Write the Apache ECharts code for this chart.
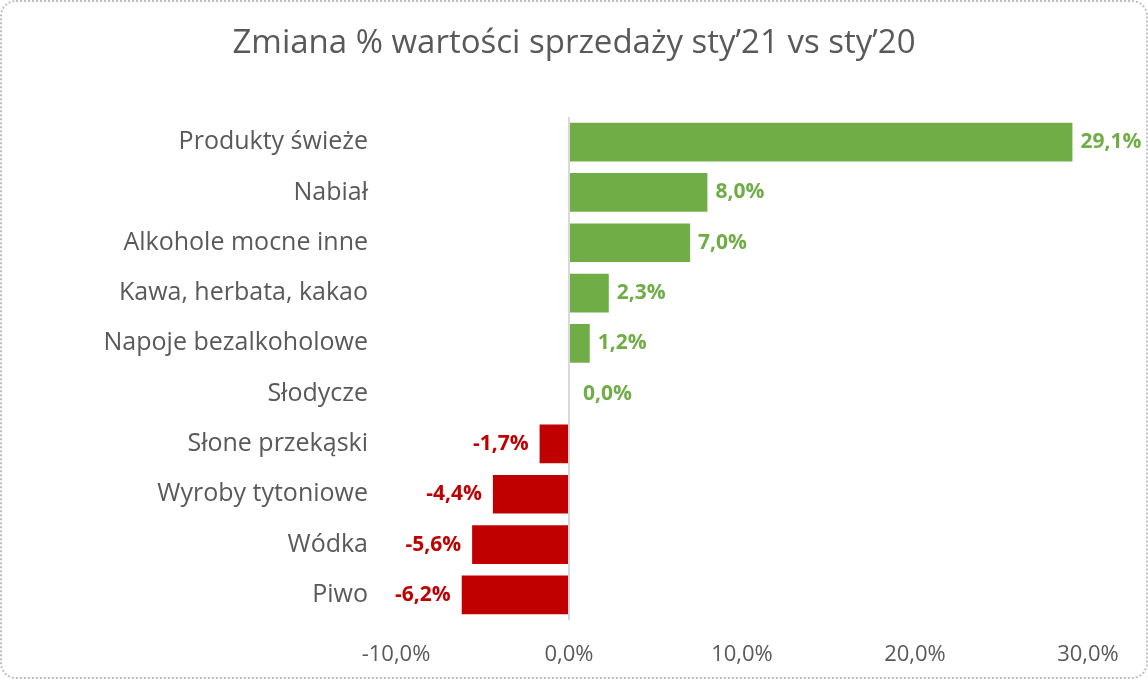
<!DOCTYPE html>
<html>
<head>
<meta charset="utf-8">
<script src="https://cdn.jsdelivr.net/npm/echarts@6/dist/echarts.min.js"></script>
<style>
    html, body { margin: 0; padding: 0; background: #fff; }
    #chart {
        width: 1148px; height: 679px; box-sizing: border-box;
        border: 2px dotted #bfbfbf; border-radius: 16px;
    }
</style>
</head>
<body>
<div id="chart"></div>
<script>
// Category names, top to bottom
var categories = ['Produkty świeże', 'Nabiał', 'Alkohole mocne inne', 'Kawa, herbata, kakao',
    'Napoje bezalkoholowe', 'Słodycze', 'Słone przekąski', 'Wyroby tytoniowe', 'Wódka', 'Piwo']
// Change of sales value, %
var changes = [29.1, 8.0, 7.0, 2.3, 1.2, 0.0, -1.7, -4.4, -5.6, -6.2]
var tickMin = -10
var tickMax = 30
var tickStep = 10

var green = '#70ad47'
var red = '#c00000'

function pct(v) {
    return v.toFixed(1).replace('.', ',') + '%'
}

var barData = changes.map(function (v) {
    var c = v >= 0 ? green : red
    return {
        value: v,
        itemStyle: { color: c },
        label: {
            color: c,
            position: v >= 0 ? 'right' : 'left',
            distance: v >= 0 ? (v === 0 ? 14 : 8) : 11
        }
    }
})

var option = {
    animation: false,
    title: {
        text: 'Zmiana % wartości sprzedaży sty’21 vs sty’20',
        left: 'center',
        top: 20,
        textStyle: {
            fontFamily: 'Open Sans',
            fontWeight: 'normal',
            fontSize: 33,
            color: '#595959'
        }
    },
    grid: {
        left: 394,
        right: 58,
        top: 115,
        bottom: 57
    },
    xAxis: {
        type: 'value',
        min: tickMin,
        max: tickMax,
        interval: tickStep,
        axisLine: { show: false },
        axisTick: { show: false },
        splitLine: { show: false },
        axisLabel: {
            formatter: function (v) { return pct(v) },
            fontFamily: 'Open Sans',
            fontSize: 22,
            color: '#595959',
            margin: 24
        }
    },
    yAxis: {
        type: 'category',
        data: categories,
        inverse: true,
        axisLine: { show: false, onZero: false },
        axisTick: { show: false },
        axisLabel: {
            fontFamily: 'Open Sans',
            fontSize: 25,
            color: '#595959',
            margin: 28
        }
    },
    series: [{
        type: 'bar',
        data: barData,
        barCategoryGap: '23%',
        label: {
            show: true,
            fontFamily: 'Open Sans',
            fontWeight: 'bold',
            fontSize: 21,
            formatter: function (p) { return pct(p.value) }
        },
        markLine: {
            silent: true,
            symbol: 'none',
            label: { show: false },
            lineStyle: { color: '#d9d9d9', width: 2, type: 'solid' },
            data: [{ xAxis: 0 }]
        }
    }]
}

var chart = echarts.init(document.getElementById('chart'))
chart.setOption(option)
</script>
</body>
</html>
